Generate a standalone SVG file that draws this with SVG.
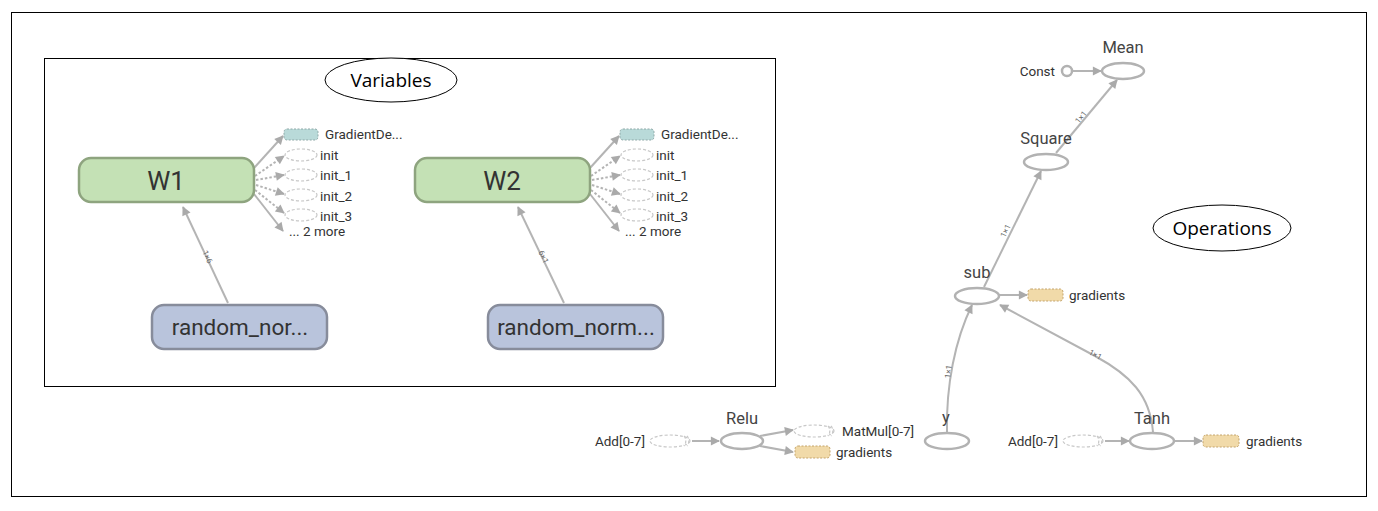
<svg xmlns="http://www.w3.org/2000/svg" width="1378" height="511" viewBox="0 0 1378 511">
<style>
.frame{fill:none;stroke:#000;stroke-width:1}
.callout{fill:#fff;stroke:#000;stroke-width:1}
.ctext{font-family:"Open Sans","Liberation Sans",sans-serif;font-size:19px;fill:#000;text-anchor:middle}
.var{fill:#c4e1b5;stroke:#8ea47f;stroke-width:2.5}
.rn{fill:#b9c4dc;stroke:#878c9b;stroke-width:2.5}
.big{font-family:Roboto,"Liberation Sans",sans-serif;font-size:26px;fill:#333;text-anchor:middle}
.mid{font-family:Roboto,"Liberation Sans",sans-serif;font-size:22.5px;fill:#333;text-anchor:middle}
.lab{font-family:Roboto,"Liberation Sans",sans-serif;font-size:13.5px;fill:#333}
.olab{font-family:Roboto,"Liberation Sans",sans-serif;font-size:16.5px;fill:#444;text-anchor:middle}
.op{fill:#fff;stroke:#b2b2b2;stroke-width:2.5}
.ghost{fill:#fff;stroke:#c8c8c8;stroke-width:1.2;stroke-dasharray:3,2}
.teal{fill:#b9dad9;stroke:#8fa9a8;stroke-width:1;stroke-dasharray:2,1.5}
.grad{fill:#f1daa9;stroke:#c4a46c;stroke-width:1;stroke-dasharray:2,1.5}
.e{fill:none;stroke:#b4b4b4;stroke-width:2;marker-end:url(#ah)}
.ed{fill:none;stroke:#b4b4b4;stroke-width:2;stroke-dasharray:2.5,2;marker-end:url(#ah)}
.el{font-family:Roboto,"Liberation Sans",sans-serif;font-size:8px;fill:#666;text-anchor:middle}
</style>
<defs>
<marker id="ah" viewBox="0 0 10 10" refX="9" refY="5" markerWidth="11" markerHeight="9" markerUnits="userSpaceOnUse" orient="auto" overflow="visible">
<path d="M0,0 L10,5 L0,10 z" fill="#aaa"/>
</marker>
</defs>
<rect width="1378" height="511" fill="#fff"/>
<rect class="frame" x="11.5" y="12.5" width="1355" height="484"/>
<rect class="frame" x="44.5" y="58.5" width="731" height="328"/>

<g id="callout-variables">
<ellipse class="callout" cx="391" cy="80" rx="66" ry="22"/>
<text class="ctext" x="391" y="87">Variables</text>
</g>
<g id="callout-operations">
<ellipse class="callout" cx="1222" cy="228" rx="69" ry="23"/>
<text class="ctext" x="1222" y="235">Operations</text>
</g>

<g id="connectors">
<path class="e" d="M228,303 L183,207"/>
<text class="el" transform="translate(205,258) rotate(65)">1×6</text>
<path class="e" d="M564,303 L518,207"/>
<text class="el" transform="translate(541,258) rotate(65)">6×1</text>
<path class="e" d="M254,168 L283,136"/>
<path class="ed" d="M255,176 L284,156"/>
<path class="ed" d="M256,180 L284,175"/>
<path class="ed" d="M256,185 L284,194"/>
<path class="ed" d="M255,190 L284,213"/>
<path class="e" d="M254,194 L283,231"/>
<path class="e" d="M590,168 L619,136"/>
<path class="ed" d="M591,176 L620,156"/>
<path class="ed" d="M592,180 L620,175"/>
<path class="ed" d="M592,185 L620,194"/>
<path class="ed" d="M591,190 L620,213"/>
<path class="e" d="M590,194 L619,231"/>

<path class="e" d="M1073,71 L1101,71"/>
<path class="e" d="M1056,153 L1117,80"/>
<text class="el" transform="translate(1083,119) rotate(-50)">1×1</text>
<path class="e" d="M984,287 L1041,171"/>
<text class="el" transform="translate(1008,232) rotate(-64)">1×1</text>
<path class="e" d="M999,295 L1027,295"/>
<path class="e" d="M947,432 C946,385 955,340 972,305"/>
<text class="el" transform="translate(951,372) rotate(-84)">1×1</text>
<path class="e" d="M1153,432 C1150,395 1130,375 1095,356 L1000,305"/>
<text class="el" transform="translate(1094,357) rotate(28)">1×1</text>
<path class="e" d="M1105,441 L1129,441"/>
<path class="e" d="M1174,441 L1202,441"/>
<path class="e" d="M692,441 L719,441"/>
<path class="e" d="M760,436 L793,430"/>
<path class="e" d="M760,446 L793,452"/>
</g>

<g id="W1">
<rect class="var" x="79" y="158" width="175" height="44" rx="12"/>
<text class="big" x="166" y="190">W1</text>
</g>
<g id="W1-aux">
<rect class="teal" x="284" y="129" width="34" height="11" rx="3"/>
<text class="lab" x="325" y="139">GradientDe...</text>
<ellipse class="ghost" cx="301" cy="155" rx="16" ry="6"/>
<text class="lab" x="320" y="160">init</text>
<ellipse class="ghost" cx="301" cy="175" rx="16" ry="6"/>
<text class="lab" x="320" y="180">init_1</text>
<ellipse class="ghost" cx="301" cy="195" rx="16" ry="6"/>
<text class="lab" x="320" y="201">init_2</text>
<ellipse class="ghost" cx="301" cy="215" rx="16" ry="6"/>
<text class="lab" x="320" y="221">init_3</text>
<text class="lab" x="289" y="236">... 2 more</text>
</g>
<g id="W2">
<rect class="var" x="415" y="158" width="175" height="44" rx="12"/>
<text class="big" x="502" y="190">W2</text>
</g>
<g id="W2-aux">
<rect class="teal" x="620" y="129" width="34" height="11" rx="3"/>
<text class="lab" x="661" y="139">GradientDe...</text>
<ellipse class="ghost" cx="637" cy="155" rx="16" ry="6"/>
<text class="lab" x="656" y="160">init</text>
<ellipse class="ghost" cx="637" cy="175" rx="16" ry="6"/>
<text class="lab" x="656" y="180">init_1</text>
<ellipse class="ghost" cx="637" cy="195" rx="16" ry="6"/>
<text class="lab" x="656" y="201">init_2</text>
<ellipse class="ghost" cx="637" cy="215" rx="16" ry="6"/>
<text class="lab" x="656" y="221">init_3</text>
<text class="lab" x="625" y="236">... 2 more</text>
</g>
<g id="random_normal_1">
<rect class="rn" x="152" y="305" width="175" height="44" rx="12"/>
<text class="mid" x="240" y="335">random_nor...</text>
</g>
<g id="random_normal_2">
<rect class="rn" x="488" y="305" width="175" height="44" rx="12"/>
<text class="mid" x="576" y="335">random_norm...</text>
</g>

<g id="Mean">
<ellipse class="op" cx="1123" cy="71" rx="21" ry="8"/>
<text class="olab" x="1123" y="53">Mean</text>
</g>
<g id="Const">
<circle class="op" cx="1067" cy="71" r="5" stroke-width="2"/>
<text class="lab" x="1055" y="76" text-anchor="end">Const</text>
</g>
<g id="Square">
<ellipse class="op" cx="1046" cy="162" rx="22" ry="8"/>
<text class="olab" x="1046" y="144">Square</text>
</g>
<g id="sub">
<ellipse class="op" cx="977" cy="296" rx="22" ry="8"/>
<text class="olab" x="977" y="278">sub</text>
</g>
<g id="sub-gradients">
<rect class="grad" x="1028" y="289" width="35" height="12" rx="3"/>
<text class="lab" x="1069" y="300">gradients</text>
</g>
<g id="y">
<ellipse class="op" cx="947" cy="441" rx="22" ry="8"/>
<text class="olab" x="946" y="423">y</text>
</g>
<g id="Tanh">
<ellipse class="op" cx="1152" cy="441" rx="22" ry="8"/>
<text class="olab" x="1152" y="424">Tanh</text>
</g>
<g id="Tanh-Add">
<ellipse class="ghost" cx="1083" cy="441" rx="20" ry="6"/>
<path class="ghost" fill="none" d="M1097,436 A4,6 0 0 1 1097,446 M1100,436 A4,6 0 0 1 1100,446"/>
<text class="lab" x="1058" y="446" text-anchor="end">Add[0-7]</text>
</g>
<g id="Tanh-gradients">
<rect class="grad" x="1203" y="435" width="36" height="12" rx="3"/>
<text class="lab" x="1246" y="446">gradients</text>
</g>
<g id="Relu">
<ellipse class="op" cx="742" cy="441" rx="21" ry="8"/>
<text class="olab" x="742" y="424">Relu</text>
</g>
<g id="Relu-Add">
<ellipse class="ghost" cx="670" cy="441" rx="20" ry="6"/>
<path class="ghost" fill="none" d="M684,436 A4,6 0 0 1 684,446 M687,436 A4,6 0 0 1 687,446"/>
<text class="lab" x="645" y="446" text-anchor="end">Add[0-7]</text>
</g>
<g id="MatMul">
<ellipse class="ghost" cx="814" cy="431" rx="20" ry="6"/>
<path class="ghost" fill="none" d="M828,426 A4,6 0 0 1 828,436 M831,426 A4,6 0 0 1 831,436"/>
<text class="lab" x="842" y="436">MatMul[0-7]</text>
</g>
<g id="Relu-gradients">
<rect class="grad" x="795" y="446" width="35" height="12" rx="3"/>
<text class="lab" x="836" y="457">gradients</text>
</g>
</svg>
